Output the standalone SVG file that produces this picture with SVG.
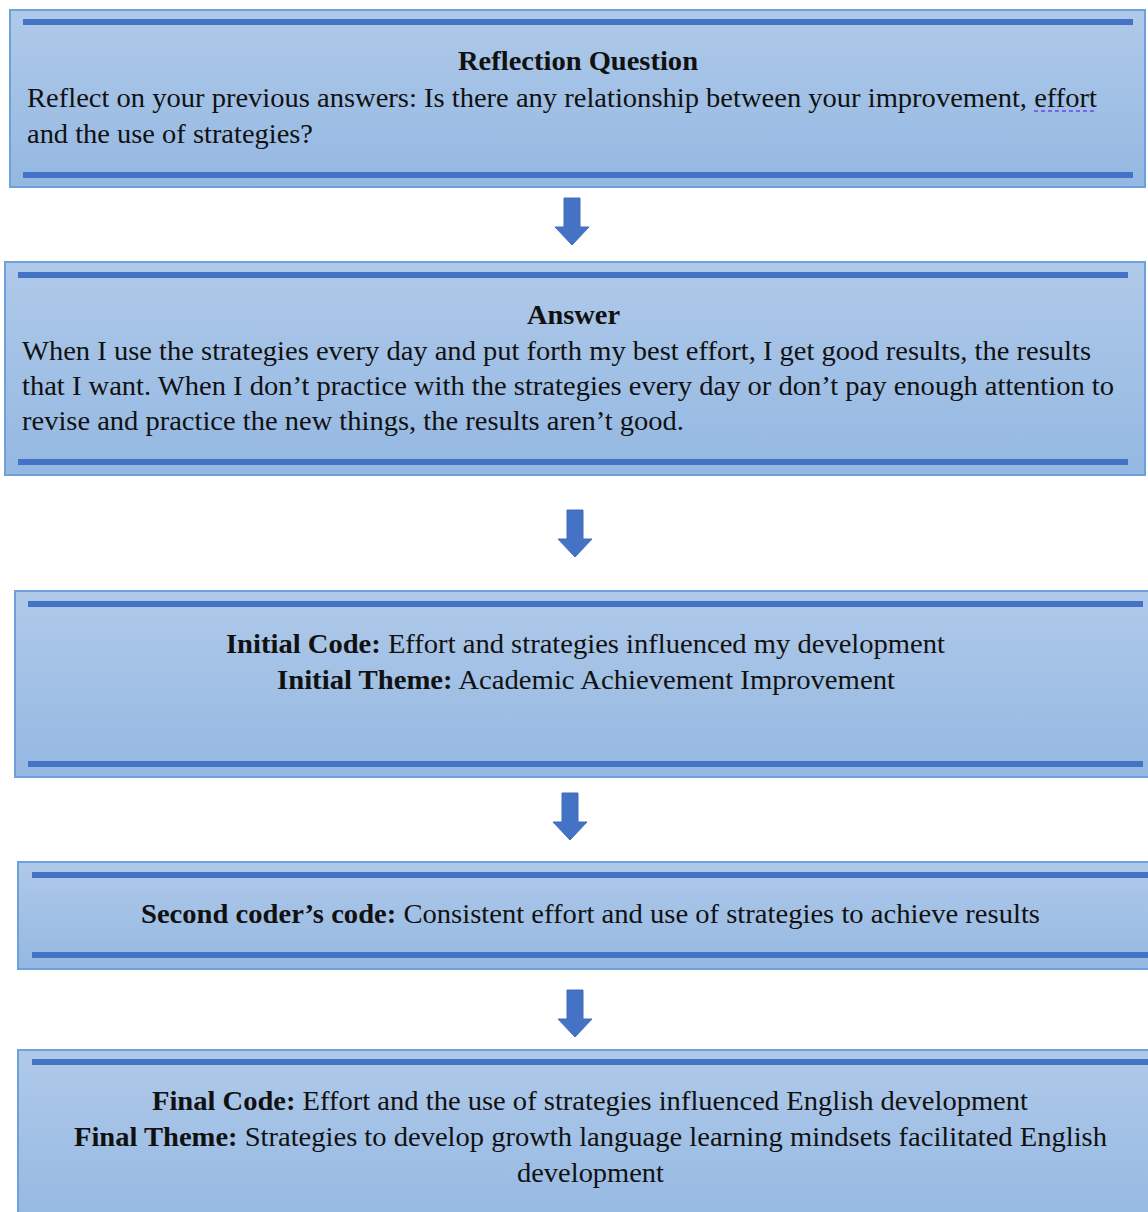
<svg xmlns="http://www.w3.org/2000/svg" width="1148" height="1212" viewBox="0 0 1148 1212">
<defs>
<linearGradient id="g" x1="0" y1="0" x2="0" y2="1">
<stop offset="0" stop-color="#afc9e9"/>
<stop offset="1" stop-color="#94b8e2"/>
</linearGradient>
<style>
.box{fill:url(#g);stroke:#6ea1da;stroke-width:2}
.bar{stroke:#4472c4;stroke-width:6}
.t{font-family:"Liberation Serif","Times New Roman",serif;font-size:28px;fill:#111}
.b{font-weight:bold}
.c{text-anchor:middle}
.arr{fill:#4472c4;stroke:#3f6cbc;stroke-width:1}
</style>
</defs>
<rect width="1148" height="1212" fill="#fff"/>
<g id="node-reflection">
<rect class="box" x="10" y="10" width="1135" height="177"/>
<line class="bar" x1="23" y1="22" x2="1133" y2="22"/>
<line class="bar" x1="23" y1="175" x2="1133" y2="175"/>
<text class="t b c" x="578" y="70" textLength="240" lengthAdjust="spacingAndGlyphs">Reflection Question</text>
<text class="t" x="27" y="107" textLength="1070" lengthAdjust="spacingAndGlyphs">Reflect on your previous answers: Is there any relationship between your improvement, effort</text>
<line x1="1034" y1="111" x2="1097" y2="111" stroke="#7a5ff0" stroke-width="2" stroke-dasharray="4,3"/>
<text class="t" x="27" y="143" textLength="286" lengthAdjust="spacingAndGlyphs">and the use of strategies?</text>
</g>
<g id="node-answer">
<rect class="box" x="5" y="262" width="1140" height="213"/>
<line class="bar" x1="18" y1="275" x2="1128" y2="275"/>
<line class="bar" x1="18" y1="462" x2="1128" y2="462"/>
<text class="t b c" x="573.5" y="324" textLength="93" lengthAdjust="spacingAndGlyphs">Answer</text>
<text class="t" x="22" y="360" textLength="1069" lengthAdjust="spacingAndGlyphs">When I use the strategies every day and put forth my best effort, I get good results, the results</text>
<text class="t" x="22" y="395" textLength="1092" lengthAdjust="spacingAndGlyphs">that I want. When I don’t practice with the strategies every day or don’t pay enough attention to</text>
<text class="t" x="22" y="430" textLength="662" lengthAdjust="spacingAndGlyphs">revise and practice the new things, the results aren’t good.</text>
</g>
<g id="node-initial">
<rect class="box" x="15" y="591" width="1145" height="186"/>
<line class="bar" x1="28" y1="604" x2="1143" y2="604"/>
<line class="bar" x1="28" y1="764" x2="1143" y2="764"/>
<text class="t c" x="585.5" y="653" textLength="719" lengthAdjust="spacingAndGlyphs"><tspan class="b">Initial Code:</tspan> Effort and strategies influenced my development</text>
<text class="t c" x="586" y="689" textLength="618" lengthAdjust="spacingAndGlyphs"><tspan class="b">Initial Theme:</tspan> Academic Achievement Improvement</text>
</g>
<g id="node-second">
<rect class="box" x="18" y="862" width="1145" height="107"/>
<line class="bar" x1="32" y1="875" x2="1160" y2="875"/>
<line class="bar" x1="32" y1="955" x2="1160" y2="955"/>
<text class="t c" x="590.5" y="923" textLength="899" lengthAdjust="spacingAndGlyphs"><tspan class="b">Second coder’s code:</tspan> Consistent effort and use of strategies to achieve results</text>
</g>
<g id="node-final">
<rect class="box" x="18" y="1050" width="1145" height="180"/>
<line class="bar" x1="32" y1="1062" x2="1160" y2="1062"/>
<text class="t c" x="590" y="1110" textLength="876" lengthAdjust="spacingAndGlyphs"><tspan class="b">Final Code:</tspan> Effort and the use of strategies influenced English development</text>
<text class="t c" x="590.5" y="1146" textLength="1033" lengthAdjust="spacingAndGlyphs"><tspan class="b">Final Theme:</tspan> Strategies to develop growth language learning mindsets facilitated English</text>
<text class="t c" x="590.5" y="1182" textLength="147" lengthAdjust="spacingAndGlyphs">development</text>
</g>
<g id="connectors">
<path class="arr" d="M564 198 H580 V227 H589 L572 245 L555 227 H564 Z"/>
<path class="arr" d="M567 510 H583 V539 H592 L575 557 L558 539 H567 Z"/>
<path class="arr" d="M562 793 H578 V822 H587 L570 840 L553 822 H562 Z"/>
<path class="arr" d="M567 990 H583 V1019 H592 L575 1037 L558 1019 H567 Z"/>
</g>
</svg>
